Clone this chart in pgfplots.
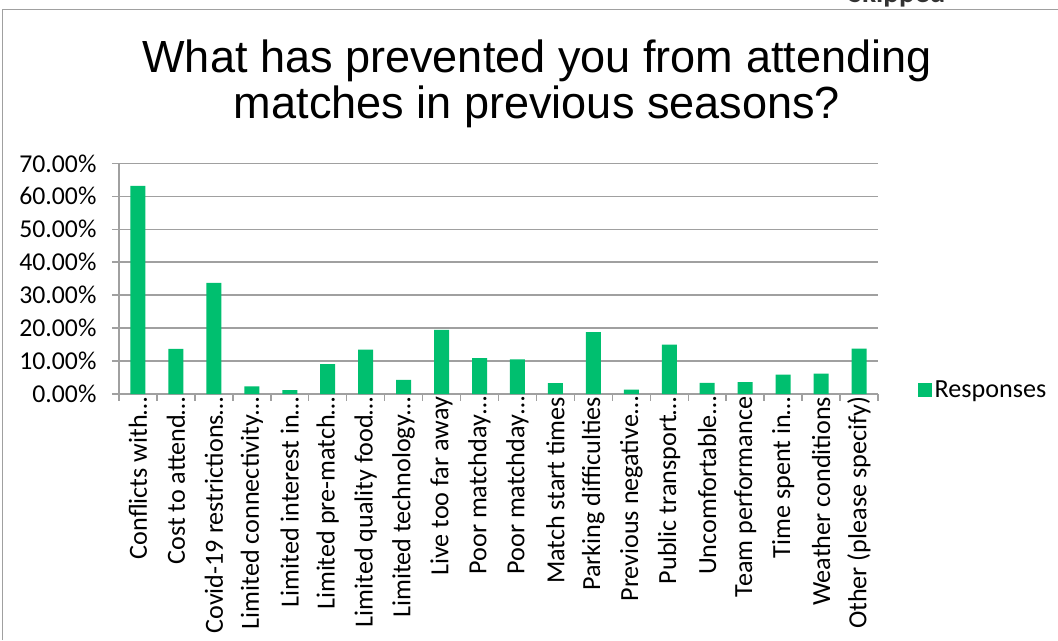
\documentclass[border=0pt]{standalone}
\usepackage{pgfplots}
\pgfplotsset{compat=1.18}
\usepackage{fontspec}
\setmainfont{Carlito}
\newfontfamily\arialfont{Liberation Sans}
\definecolor{smgreen}{RGB}{0,191,111}
\definecolor{gridgray}{RGB}{160,160,160}
\pgfplotsset{sqlegend/.style={legend image code/.code={\fill[##1] (0pt,-5.25pt) rectangle (10.5pt,5.25pt);}}}
\begin{document}
\begin{tikzpicture}
\useasboundingbox (0,0) rectangle (793.5pt,-480pt);
\draw[gridgray, line width=1.1pt] (1.9pt,-480pt) -- (1.9pt,-7.1pt) -- (793.5pt,-7.1pt);
\node[font=\bfseries\fontsize{22}{26}\selectfont, anchor=base west, text=black!80, inner sep=0pt] at (636pt,-2pt) {Skipped};
\node[font=\arialfont\fontsize{33.8}{36}\selectfont, anchor=base, inner sep=0pt] at (402.75pt,-54.5pt) {What has prevented you from attending};
\node[font=\arialfont\fontsize{33.8}{36}\selectfont, anchor=base, inner sep=0pt] at (402.75pt,-88.5pt) {matches in previous seasons?};
\begin{axis}[
  at={(89.25pt,-295.5pt)}, anchor=south west,
  scale only axis, width=569.25pt, height=173pt,
  ymin=0, ymax=70, xmin=-0.5, xmax=19.5,
  ybar, bar width=11.25pt,
  axis x line*=bottom, axis y line*=left,
  axis line style={gridgray, line width=1.1pt, -},
  ytick={0,10,...,70},
  ymajorgrids, major grid style={gridgray, line width=1.1pt},
  ytick align=outside, major tick length=5.25pt,
  y tick style={gridgray, line width=1.1pt},
  yticklabel={\pgfmathprintnumber[fixed, fixed zerofill, precision=2, assume math mode=true]{\tick}\%},
  yticklabel style={font=\fontsize{19.3}{22}\selectfont, text=black, inner sep=2pt, xshift=-9.5pt},
  xtick={0,...,19},
  xtick align=inside,
  x tick style={draw=none},
  xticklabels={Conflicts with…, Cost to attend…, Covid-19 restrictions…, Limited connectivity…, Limited interest in…, Limited pre-match…, Limited quality food…, Limited technology…, Live too far away, Poor matchday…, Poor matchday…, Match start times, Parking difficulties, Previous negative…, Public transport…, Uncomfortable…, Team performance, Time spent in…, Weather conditions, Other (please specify)},
  xticklabel style={rotate=90, anchor=east, font=\fontsize{19.6}{22}\selectfont, text=black, inner sep=2pt},
  extra x ticks={-0.5,0.5,...,19.5},
  extra x tick labels={},
  extra x tick style={xtick align=outside, major tick length=5pt, x tick style={draw=gridgray, line width=1.1pt}, xmajorgrids=false},
  legend style={draw=none, fill=none, at={(axis description cs:1.052,0.017)}, anchor=west, inner sep=0pt, font=\fontsize{19.6}{22}\selectfont, nodes={inner sep=2.2pt}},
]
\addplot[fill=smgreen, draw=none, sqlegend] coordinates {
(0,63.2) (1,13.7) (2,33.7) (3,2.3) (4,1.2) (5,9.1) (6,13.5) (7,4.3) (8,19.5) (9,10.9)
(10,10.5) (11,3.3) (12,18.8) (13,1.3) (14,15.0) (15,3.4) (16,3.6) (17,5.9) (18,6.2) (19,13.8)};
\addlegendentry{Responses}
\end{axis}
\end{tikzpicture}
\end{document}
